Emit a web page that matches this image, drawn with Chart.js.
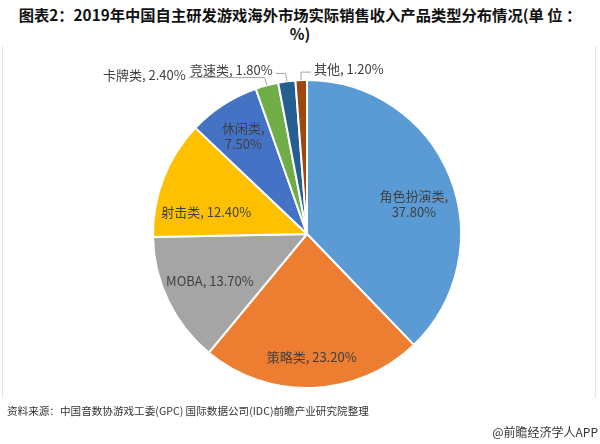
<!DOCTYPE html>
<html>
<head>
<meta charset="utf-8">
<script src="https://cdn.jsdelivr.net/npm/chart.js@4"></script>
<style>
  body { margin: 0; background: #fff; }
  #wrap { position: relative; width: 600px; height: 444px; overflow: hidden; font-family: "Noto Sans CJK SC", sans-serif; }
  #title { position: absolute; left: 0; top: 5px; width: 600px; text-align: center; font-weight: bold; font-size: 15.3px; line-height: 19px; color: #111; white-space: nowrap; }
  #frame { position: absolute; left: 2px; top: 46px; width: 592px; height: 352px; border-left: 1px solid #e6e6e6; border-right: 1px solid #e6e6e6; }
  #source { position: absolute; left: 7px; top: 403px; font-size: 10.6px; color: #333; white-space: nowrap; }
  #brand { position: absolute; right: 2px; top: 423px; font-size: 12px; color: #333; white-space: nowrap; }
  canvas { position: absolute; left: 0; top: 0; }
</style>
</head>
<body>
<div id="wrap">
  <div id="frame"></div>
  <div id="title">图表2：2019年中国自主研发游戏海外市场实际销售收入产品类型分布情况(单 位 ：<br>%)</div>
  <canvas id="pieChart" width="600" height="444"></canvas>
  <div id="source">资料来源：中国音数协游戏工委(GPC) 国际数据公司(IDC)前瞻产业研究院整理</div>
  <div id="brand">@前瞻经济学人APP</div>
</div>
<script>
const categories = ["角色扮演类", "策略类", "MOBA", "射击类", "休闲类", "卡牌类", "竞速类", "其他"];
const shares = [37.8, 23.2, 13.7, 12.4, 7.5, 2.4, 1.8, 1.2];
const colors = ["#5B9BD5", "#ED7D31", "#A5A5A5", "#FFC000", "#4472C4", "#70AD47", "#255E91", "#9E480E"];

// how each label is placed: inside slices (radius fraction, angle nudge in degrees) or outside with a leader line
const labelMode = ["in2", "in", "in", "in", "in2", "out", "out", "out"];
const labelRadius = [0.72, 0.8, 0.7, 0.67, 0.76, 0, 0, 0];
const labelNudge = [6.5, 0, 0, -9, 0, 0, 0, 0];
const leaderLen = [0, 0, 0, 0, 0, 76, 10, 10];

const sliceLabels = {
  id: "sliceLabels",
  afterDatasetsDraw(chart) {
    const ctx = chart.ctx;
    const arcs = chart.getDatasetMeta(0).data;
    ctx.save();
    ctx.font = '13px "Noto Sans CJK SC", sans-serif';
    ctx.fillStyle = "#404040";
    ctx.textBaseline = "middle";
    arcs.forEach((arc, i) => {
      const { x, y, startAngle, endAngle, outerRadius } = arc.getProps(["x", "y", "startAngle", "endAngle", "outerRadius"], true);
      const mid = (startAngle + endAngle) / 2;
      const pct = shares[i].toFixed(2) + "%";
      if (labelMode[i] === "out") {
        const x0 = x + Math.cos(mid) * outerRadius, y0 = y + Math.sin(mid) * outerRadius;
        const x1 = x + Math.cos(mid) * (outerRadius + 8), y1 = y + Math.sin(mid) * (outerRadius + 8);
        const dir = Math.cos(mid) >= -0.05 ? 1 : -1;
        const x2 = x1 + dir * leaderLen[i];
        ctx.strokeStyle = "#a6a6a6";
        ctx.lineWidth = 1;
        ctx.beginPath();
        ctx.moveTo(x0, y0);
        ctx.lineTo(x1, y1);
        ctx.lineTo(x2, y1);
        ctx.stroke();
        ctx.textAlign = dir > 0 ? "left" : "right";
        ctx.fillText(categories[i] + ", " + pct, x2 + dir * 3, y1 - 3);
      } else {
        const a = mid + labelNudge[i] * Math.PI / 180;
        const r = outerRadius * labelRadius[i];
        const lx = x + Math.cos(a) * r, ly = y + Math.sin(a) * r;
        ctx.textAlign = "center";
        if (labelMode[i] === "in2") {
          ctx.fillText(categories[i] + ",", lx, ly - 8);
          ctx.fillText(pct, lx, ly + 8);
        } else {
          ctx.fillText(categories[i] + ", " + pct, lx, ly);
        }
      }
    });
    ctx.restore();
  }
};

new Chart(document.getElementById("pieChart"), {
  type: "pie",
  data: {
    labels: categories,
    datasets: [{
      data: shares,
      backgroundColor: colors,
      borderColor: "#ffffff",
      borderWidth: 2
    }]
  },
  options: {
    responsive: false,
    animation: false,
    layout: { padding: { top: 79, bottom: 55, left: 100, right: 86 } },
    plugins: {
      legend: { display: false },
      tooltip: { enabled: false }
    }
  },
  plugins: [sliceLabels]
});
</script>
</body>
</html>
